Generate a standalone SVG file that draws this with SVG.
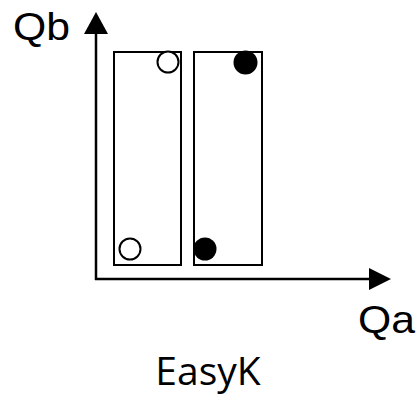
<svg xmlns="http://www.w3.org/2000/svg" width="417" height="398" viewBox="0 0 417 398">
<style>
.lbl{font-family:"Liberation Sans",Arial,sans-serif;font-size:39px;fill:#000}
.cap{font-family:"Open Sans","Liberation Sans",sans-serif;font-size:39px;fill:#000}
.box{fill:none;stroke:#000;stroke-width:2}
.open{fill:#fff;stroke:#000;stroke-width:2}
.full{fill:#000;stroke:none}
.ax{stroke:#000;stroke-width:2.5;fill:none}
</style>
<rect width="417" height="398" fill="#fff"/>
<g id="connectors">
<line class="ax" x1="96" y1="280" x2="96" y2="30"/>
<polygon points="96,12 84,34 108,34" fill="#000"/>
<line class="ax" x1="95" y1="279" x2="372" y2="279"/>
<polygon points="391,279 369,268 369,290" fill="#000"/>
</g>
<g id="box-left"><rect class="box" x="114" y="52" width="67" height="213"/></g>
<g id="box-right"><rect class="box" x="194" y="52" width="68" height="213"/></g>
<g id="pt-open-top"><circle class="open" cx="168" cy="62" r="10.5"/></g>
<g id="pt-open-bottom"><circle class="open" cx="130" cy="249" r="10.5"/></g>
<g id="pt-full-top"><circle class="full" cx="245.5" cy="62.5" r="12"/></g>
<g id="pt-full-bottom"><circle class="full" cx="205" cy="249" r="11.5"/></g>
<g id="label-qb"><text class="lbl" x="13" y="40" textLength="57" lengthAdjust="spacingAndGlyphs">Qb</text></g>
<g id="label-qa"><text class="lbl" x="358" y="333" textLength="57" lengthAdjust="spacingAndGlyphs">Qa</text></g>
<g id="caption"><text class="cap" x="208" y="385" text-anchor="middle">EasyK</text></g>
</svg>
